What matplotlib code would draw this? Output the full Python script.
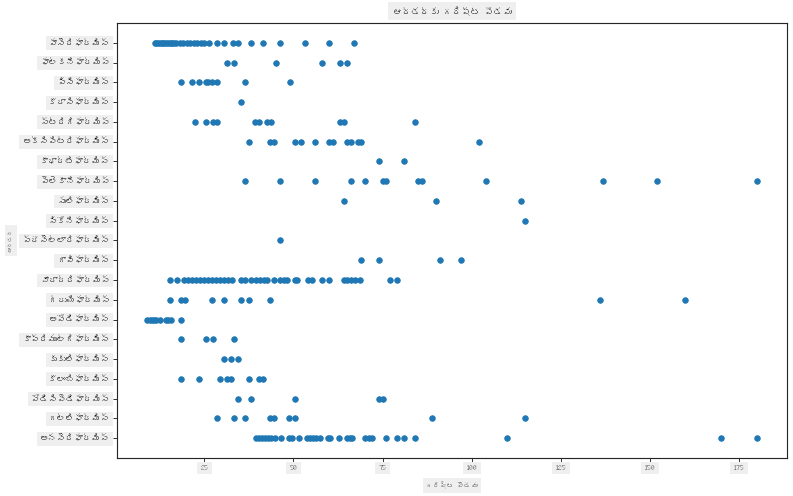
import matplotlib
matplotlib.use("Agg")
import matplotlib.pyplot as plt
from matplotlib import font_manager
from matplotlib.ft2font import FT2Font

# ---- font with Telugu glyphs, if any is installed ----
tel_font = None
for f in font_manager.fontManager.ttflist:
    try:
        cm = FT2Font(f.fname).get_charmap()
        if 0x0C05 in cm and 0x0C2B in cm:
            tel_font = f.name
            break
    except Exception:
        pass
families = ([tel_font] if tel_font else []) + ["Noto Sans", "DejaVu Sans"]
plt.rcParams["font.family"] = families

# ---- data (bottom to top) ----
orders = [
    "అనసెరిఫార్మిస్", "గల్లిఫార్మిస్", "పోడిసిపెడిఫార్మిస్", "కొలంబిఫార్మిస్",
    "కుకులిఫార్మిస్", "కాప్రిముల్గిఫార్మిస్", "అపోడిఫార్మిస్", "గ్రుయిఫార్మిస్",
    "చారాద్రిఫార్మిస్", "గావిఫార్మిస్", "ప్రొసెల్లారిఫార్మిస్", "సికోనిఫార్మిస్",
    "సులిఫార్మిస్", "పెలెకానిఫార్మిస్", "కాథార్టిఫార్మిస్", "అక్సిపిట్రిఫార్మిస్",
    "స్ట్రిగిఫార్మిస్", "కొరాసిఫార్మిస్", "పిసిఫార్మిస్", "ఫాల్కనిఫార్మిస్",
    "పాసెరిఫార్మిస్",
]

anseriformes = [39.4, 40.3, 41.2, 42.0, 42.9, 43.8, 44.8, 46.5, 48.8, 49.6, 51.5,
                53.7, 54.6, 55.6, 56.4, 57.5, 59.6, 60.3, 62.8, 64.9, 65.8, 66.5,
                70.1, 71.3, 72.1, 76.0, 79.1, 81.1, 84.1, 110.0, 170.0, 180.0]
galliformes = [28.4, 33.2, 36.3, 43.3, 44.4, 48.6, 50.3, 89.0, 115.0]
podicipediformes = [34.3, 38.2, 50.3, 74.0, 75.0]
columbiformes = [18.4, 23.4, 29.3, 31.3, 32.4, 37.4, 40.2, 41.3]
cuculiformes = [30.4, 32.4, 34.3]
caprimulgiformes = [18.4, 25.4, 27.3, 33.2]
apodiformes = [9.0, 9.7, 10.2, 10.8, 11.4, 12.5, 14.2, 14.8, 15.6, 18.4]
gruiformes = [15.3, 18.4, 19.5, 27.0, 30.4, 35.2, 37.4, 43.3, 136.0, 160.0]
charadriiformes = [15.3, 17.2, 19.2, 20.3, 21.4, 22.6, 23.7, 24.8, 25.9, 27.0,
                   28.2, 29.3, 30.4, 31.5, 32.6, 35.2, 36.3, 38.2, 39.4, 40.5,
                   41.6, 42.7, 44.4, 46.3, 47.2, 48.3, 50.3, 51.1, 54.2, 55.3,
                   58.1, 60.1, 64.3, 65.1, 66.2, 67.3, 68.8, 77.0, 79.0]
gaviiformes = [69.0, 74.0, 91.0, 97.0]
procellariiformes = [46.3]
ciconiiformes = [115.0]
suliformes = [64.3, 90.0, 114.0]
pelecaniformes = [36.3, 46.3, 56.1, 66.2, 70.1, 75.2, 76.0, 85.0, 86.0, 104.0,
                  137.0, 152.0, 180.0]
cathartiformes = [74.0, 81.0]
accipitriformes = [37.4, 43.3, 44.4, 50.3, 52.2, 56.1, 60.1, 61.2, 65.0, 66.2,
                   68.2, 69.0, 102.0]
strigiformes = [22.3, 25.4, 27.3, 28.4, 39.2, 40.2, 42.5, 43.7, 63.1, 64.3, 84.0]
coraciiformes = [35.2]
piciformes = [18.4, 21.4, 23.4, 25.3, 26.0, 27.0, 28.4, 36.3, 49.0]
falconiformes = [31.2, 33.2, 45.2, 58.1, 63.1, 65.1]
passeriformes = [11.0, 11.5, 12.0, 12.5, 13.0, 13.5, 14.0, 14.5, 15.0, 15.5, 16.0,
                 16.5, 17.0, 18.0, 19.0, 20.0, 21.0, 22.0, 23.0, 24.0, 25.0, 26.2,
                 28.4, 30.5, 33.1, 34.3, 38.2, 41.3, 46.3, 53.3, 60.1, 67.0]

series = [anseriformes, galliformes, podicipediformes, columbiformes, cuculiformes,
          caprimulgiformes, apodiformes, gruiformes, charadriiformes, gaviiformes,
          procellariiformes, ciconiiformes, suliformes, pelecaniformes,
          cathartiformes, accipitriformes, strigiformes, coraciiformes, piciformes,
          falconiformes, passeriformes]

title = "ఆర్డర్కు గరిష్ట పొడవు"
xlabel = "గరిష్ట పొడవు"
ylabel = "ఆర్డర్"
xticks = [25, 50, 75, 100, 125, 150, 175]

xs, ys = [], []
for i, vals in enumerate(series):
    xs.extend(vals)
    ys.extend([i] * len(vals))

dpi = 66
fig = plt.figure(figsize=(793 / dpi, 496 / dpi), dpi=dpi)
ax = fig.add_axes([117 / 793, 1 - 458 / 496, (787 - 117) / 793, (458 - 23) / 496])
ax.scatter(xs, ys, s=36, color="#1f77b4")

box = dict(facecolor="#efefef", edgecolor="none", pad=3.5)
ax.set_yticks(range(len(orders)))
ax.set_yticklabels(orders, fontsize=9.5, color="#111111")
ax.set_xticks(xticks)
ax.set_xticklabels([str(t) for t in xticks], fontsize=8.5, color="#555555")
for lab in ax.get_yticklabels() + ax.get_xticklabels():
    lab.set_bbox(box)
ax.set_title(title, fontsize=10, color="#111111",
             bbox=dict(facecolor="#efefef", edgecolor="none", pad=5), pad=9)
ax.set_xlabel(xlabel, fontsize=7.5, color="#444444",
              bbox=dict(facecolor="#efefef", edgecolor="none", pad=4), labelpad=12)
ax.set_ylabel(ylabel, fontsize=6.5, color="#444444", bbox=box, labelpad=10)

for sp in ax.spines.values():
    sp.set_color("#262626")
    sp.set_linewidth(1.25)
ax.tick_params(axis="both", color="#262626", width=1.0, length=4)

fig.savefig("out.png", dpi=dpi)
